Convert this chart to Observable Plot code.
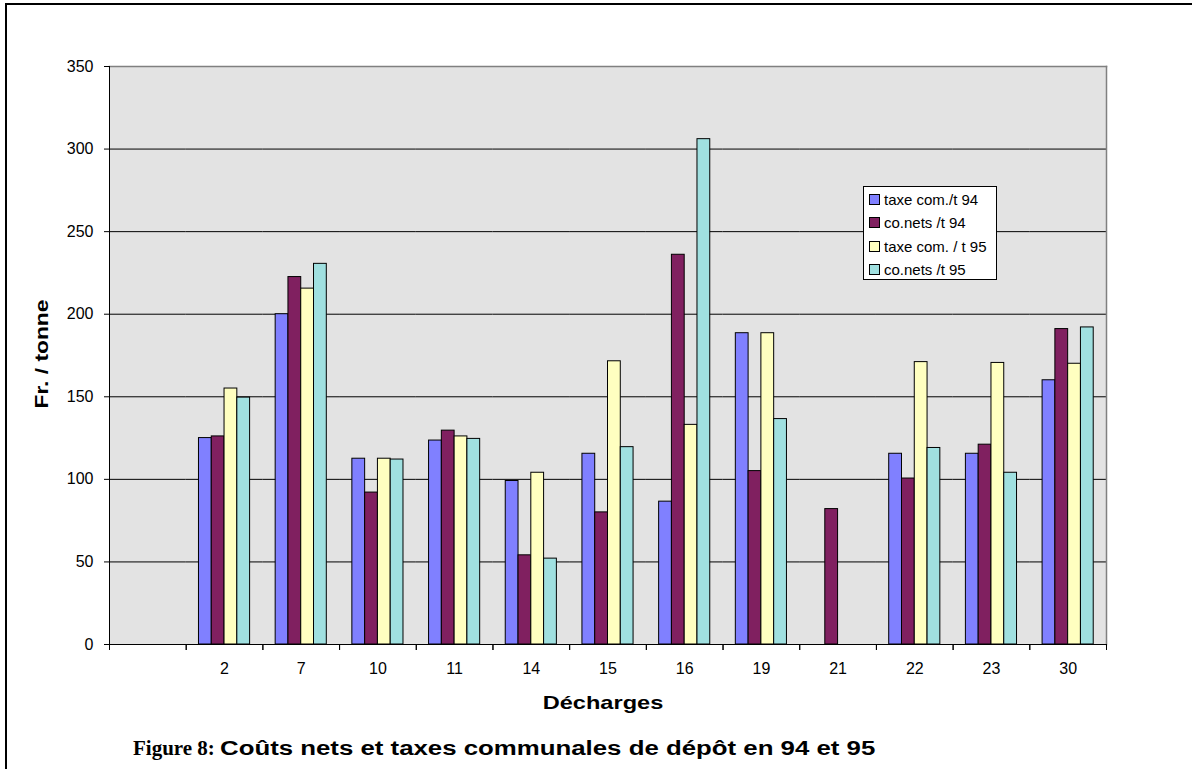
<!DOCTYPE html>
<html><head><meta charset="utf-8">
<script src="https://cdn.jsdelivr.net/npm/d3@7"></script>
<script src="https://cdn.jsdelivr.net/npm/@observablehq/plot@0.6"></script>
<style>
body{margin:0;background:#fff;width:1192px;height:769px;overflow:hidden;position:relative;font-family:"Liberation Sans",Arial,sans-serif;color:#000}
#border{position:absolute;left:5px;top:3px;width:1400px;height:1000px;border-left:2.5px solid #000;border-top:2.5px solid #000}
#chart{position:absolute;left:0;top:0}
#ylabel{position:absolute;left:42px;top:354px;transform:translate(-50%,-50%) rotate(-90deg) scaleX(1.2);font-weight:bold;font-size:19px;white-space:nowrap}
#xlabel{position:absolute;left:603px;top:703px;transform:translate(-50%,-50%) scaleX(1.24);font-weight:bold;font-size:19px;white-space:nowrap}
#legend{position:absolute;left:863px;top:186px;width:134px;height:94px;background:#fff;border:1px solid #000;box-sizing:border-box;padding-top:1px}
#legend .row{height:23.3px;display:flex;align-items:center;font-size:15px;white-space:nowrap}
#legend .sw{width:9px;height:9px;border:1px solid #000;margin-left:5px;margin-right:4px;flex:none}
#caption{position:absolute;left:133px;top:737px;font-family:"Liberation Serif","Times New Roman",serif;font-weight:bold;font-size:21px;line-height:23px;white-space:nowrap}
#caption span{display:inline-block;font-family:"Liberation Sans",Arial,sans-serif;font-size:20px;transform:scaleX(1.29);transform-origin:left center;margin-left:5px}
</style>
</head><body>
<div id="border"></div>
<div id="chart"></div>
<div id="ylabel">Fr. / tonne</div>
<div id="xlabel">Décharges</div>
<div id="legend"></div>
<div id="caption">Figure 8:<span>Coûts nets et taxes communales de dépôt en 94 et 95</span></div>
<script>
const categories = ["", "2", "7", "10", "11", "14", "15", "16", "19", "21", "22", "23", "30"];
const series = ["taxe com./t 94", "co.nets /t 94", "taxe com. / t 95", "co.nets /t 95"];
const taxe94   = [null, 125, 200, 112.5, 123.5, 99, 115.5, 86.5, 188.5, null, 115.5, 115.5, 160];
const conets94 = [null, 126, 222.5, 92, 129.5, 54, 80, 236, 105, 82, 100.5, 121, 191];
const taxe95   = [null, 155, 215.5, 112.5, 126, 104, 171.5, 133, 188.5, null, 171, 170.5, 170];
const conets95 = [null, 149.5, 230.5, 112, 124.5, 52, 119.5, 306, 136.5, null, 119, 104, 192];
const colors = ["#8080ff", "#802060", "#ffffc0", "#a0e0e0"];
const yTicks = [0, 50, 100, 150, 200, 250, 300, 350];

const seriesValues = [taxe94, conets94, taxe95, conets95];
const rows = [];
categories.forEach((cat, i) => {
  series.forEach((s, j) => {
    rows.push({cat, series: s, value: seriesValues[j][i]});
  });
});

const W = 1192, H = 700, ml = 109, mr = 86, mt = 66, mb = 56;
const step = (W - ml - mr) / categories.length;

const chart = Plot.plot({
  width: W, height: H,
  marginLeft: ml, marginRight: mr, marginTop: mt, marginBottom: mb,
  style: {fontFamily: '"Liberation Sans", Arial, sans-serif', fontSize: "16px", color: "#000", background: "transparent"},
  fx: {domain: categories, paddingInner: 0, paddingOuter: 0, round: false, label: null, axis: null},
  x: {domain: series, paddingInner: 0, paddingOuter: 1, round: false, axis: null},
  y: {domain: [0, 350], label: null, axis: null},
  color: {domain: series, range: colors},
  marks: [
    Plot.frame({facet: "super", fill: "#e3e3e3", stroke: null}),
    Plot.gridY(yTicks.slice(1, -1), {stroke: "#000", strokeOpacity: 1}),
    Plot.frame({facet: "super", anchor: "top", stroke: "#808080", strokeWidth: 1.5}),
    Plot.frame({facet: "super", anchor: "right", stroke: "#808080", strokeWidth: 1.5}),
    Plot.barY(rows, {filter: d => d.value != null, fx: "cat", x: "series", y: "value", fill: "series", stroke: "#000", strokeWidth: 1}),
    Plot.frame({facet: "super", anchor: "left", stroke: "#000"}),
    Plot.frame({facet: "super", anchor: "bottom", stroke: "#000"}),
    Plot.axisY(yTicks, {anchor: "left", tickSize: 5, tickPadding: 11, label: null, fontSize: 16}),
    Plot.axisFx({anchor: "bottom", tickSize: 0, tickPadding: 18, label: null, fontSize: 16}),
    Plot.axisFx({anchor: "bottom", tickSize: 6, tickFormat: null, dx: -step / 2, label: null}),
    Plot.axisFx([categories[categories.length - 1]], {anchor: "bottom", tickSize: 6, tickFormat: null, dx: step / 2, label: null})
  ]
});
document.getElementById("chart").appendChild(chart);

const legend = document.getElementById("legend");
series.forEach((s, j) => {
  const row = document.createElement("div");
  row.className = "row";
  const sw = document.createElement("div");
  sw.className = "sw";
  sw.style.background = colors[j];
  const t = document.createElement("span");
  t.textContent = s;
  row.appendChild(sw); row.appendChild(t);
  legend.appendChild(row);
});
</script>
</body></html>
